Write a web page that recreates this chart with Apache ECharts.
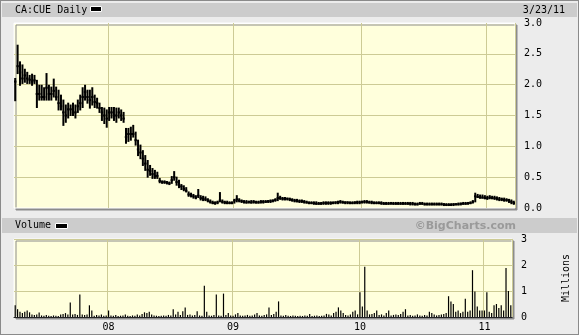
<!DOCTYPE html>
<html><head><meta charset="utf-8">
<script src="https://cdn.jsdelivr.net/npm/echarts@6/dist/echarts.min.js"></script>
<style>html,body{margin:0;padding:0;background:#ececec;overflow:hidden}#c{width:579px;height:335px}</style>
</head><body><div id="c"></div>
<script>
// weekly bars, Monday dates starting here
const startMonday = '2007-04-02';
const weekCount = 208;
const yearStarts = ['2007-12-31', '2008-12-29', '2010-01-04', '2011-01-03'];
const yearLabels = ['08', '09', '10', '11'];
const priceTicks = [0, 0.5, 1.0, 1.5, 2.0, 2.5, 3.0];
const volTicks = [0, 1, 2, 3];

const hi = [
 2.10,2.64,2.37,2.32,2.25,2.20,2.15,2.17,2.15,2.07,
 1.99,1.99,1.95,2.18,1.99,1.96,2.09,1.96,1.91,1.83,
 1.75,1.67,1.70,1.67,1.70,1.67,1.75,1.83,1.95,1.99,
 1.91,1.91,1.95,1.83,1.78,1.70,1.63,1.62,1.59,1.63,
 1.63,1.63,1.62,1.62,1.59,1.55,1.29,1.29,1.31,1.34,
 1.23,1.10,1.02,0.93,0.85,0.77,0.69,0.64,0.61,0.58,
 0.48,0.44,0.44,0.43,0.42,0.51,0.59,0.50,0.45,0.38,
 0.36,0.33,0.26,0.24,0.22,0.20,0.30,0.20,0.19,0.18,
 0.15,0.13,0.11,0.10,0.11,0.25,0.13,0.11,0.11,0.10,
 0.10,0.14,0.20,0.15,0.13,0.12,0.12,0.11,0.12,0.12,
 0.11,0.11,0.12,0.12,0.12,0.12,0.13,0.13,0.15,0.24,
 0.19,0.17,0.17,0.16,0.16,0.15,0.14,0.14,0.13,0.13,
 0.12,0.11,0.10,0.10,0.10,0.10,0.09,0.09,0.10,0.10,
 0.10,0.10,0.10,0.10,0.11,0.12,0.11,0.10,0.10,0.10,
 0.10,0.10,0.11,0.11,0.11,0.12,0.12,0.11,0.11,0.10,
 0.10,0.10,0.10,0.09,0.09,0.09,0.09,0.09,0.09,0.09,
 0.09,0.09,0.09,0.09,0.09,0.09,0.08,0.08,0.09,0.09,
 0.08,0.08,0.08,0.08,0.08,0.08,0.08,0.08,0.07,0.07,
 0.07,0.07,0.07,0.07,0.08,0.08,0.09,0.09,0.09,0.10,
 0.12,0.24,0.22,0.21,0.21,0.20,0.19,0.20,0.19,0.19,
 0.18,0.17,0.16,0.16,0.15,0.14,0.13,0.11
];
const lo = [
 1.74,2.18,1.99,2.02,2.04,2.02,2.02,1.99,2.02,1.63,
 1.75,1.75,1.75,1.75,1.75,1.75,1.80,1.75,1.59,1.59,
 1.34,1.39,1.46,1.50,1.50,1.46,1.55,1.59,1.63,1.75,
 1.70,1.62,1.67,1.63,1.62,1.55,1.42,1.37,1.31,1.42,
 1.46,1.42,1.39,1.46,1.42,1.39,1.05,1.08,1.10,1.15,
 1.02,0.85,0.80,0.69,0.61,0.50,0.53,0.48,0.48,0.48,
 0.41,0.40,0.40,0.39,0.38,0.40,0.45,0.37,0.33,0.30,
 0.28,0.26,0.19,0.18,0.16,0.15,0.17,0.13,0.12,0.12,
 0.10,0.08,0.07,0.06,0.07,0.10,0.08,0.07,0.07,0.07,
 0.07,0.08,0.10,0.10,0.09,0.08,0.08,0.08,0.08,0.08,
 0.08,0.08,0.08,0.08,0.09,0.09,0.09,0.10,0.11,0.12,
 0.14,0.13,0.13,0.13,0.12,0.11,0.10,0.10,0.09,0.09,
 0.08,0.08,0.07,0.07,0.06,0.06,0.06,0.06,0.06,0.06,
 0.06,0.06,0.07,0.07,0.07,0.08,0.08,0.07,0.07,0.07,
 0.07,0.07,0.07,0.07,0.08,0.08,0.08,0.08,0.07,0.07,
 0.07,0.07,0.06,0.06,0.06,0.06,0.06,0.06,0.06,0.06,
 0.06,0.06,0.06,0.06,0.05,0.05,0.05,0.05,0.06,0.06,
 0.05,0.05,0.05,0.05,0.05,0.05,0.05,0.05,0.04,0.04,
 0.04,0.04,0.04,0.05,0.05,0.05,0.06,0.06,0.06,0.07,
 0.08,0.10,0.17,0.16,0.16,0.15,0.14,0.15,0.15,0.14,
 0.13,0.12,0.12,0.11,0.11,0.09,0.07,0.06
];
const cl = [
 2.05,2.30,2.20,2.10,2.15,2.10,2.08,2.05,2.07,1.85,
 1.85,1.80,1.80,1.95,1.85,1.85,1.90,1.80,1.70,1.65,
 1.55,1.50,1.60,1.60,1.55,1.55,1.65,1.70,1.80,1.88,
 1.80,1.75,1.80,1.72,1.70,1.62,1.55,1.50,1.45,1.55,
 1.55,1.50,1.50,1.55,1.50,1.45,1.15,1.20,1.20,1.20,
 1.10,0.95,0.90,0.80,0.72,0.62,0.60,0.55,0.52,0.52,
 0.44,0.42,0.42,0.41,0.40,0.45,0.50,0.42,0.38,0.35,
 0.31,0.28,0.22,0.21,0.19,0.17,0.20,0.16,0.15,0.14,
 0.12,0.10,0.08,0.08,0.09,0.12,0.10,0.09,0.08,0.08,
 0.08,0.12,0.14,0.12,0.11,0.10,0.09,0.10,0.09,0.10,
 0.09,0.09,0.10,0.10,0.10,0.11,0.11,0.12,0.13,0.16,
 0.16,0.15,0.15,0.15,0.14,0.13,0.12,0.11,0.11,0.11,
 0.10,0.09,0.08,0.08,0.08,0.07,0.07,0.07,0.08,0.08,
 0.08,0.08,0.08,0.09,0.09,0.10,0.09,0.09,0.09,0.08,
 0.08,0.09,0.09,0.09,0.10,0.10,0.10,0.09,0.09,0.08,
 0.08,0.08,0.08,0.07,0.07,0.07,0.08,0.07,0.07,0.07,
 0.07,0.07,0.07,0.07,0.07,0.07,0.06,0.06,0.07,0.07,
 0.06,0.06,0.06,0.06,0.06,0.06,0.06,0.06,0.06,0.05,
 0.05,0.05,0.06,0.06,0.06,0.07,0.07,0.07,0.08,0.08,
 0.10,0.19,0.18,0.17,0.17,0.16,0.16,0.17,0.16,0.16,
 0.15,0.14,0.14,0.13,0.13,0.12,0.10,0.08
];
// volume, millions
const vol = [
 0.45,0.30,0.20,0.15,0.20,0.25,0.18,0.10,0.08,0.10,
 0.17,0.06,0.05,0.08,0.05,0.04,0.06,0.05,0.04,0.10,
 0.12,0.15,0.10,0.56,0.10,0.12,0.08,0.87,0.10,0.08,
 0.10,0.45,0.25,0.05,0.08,0.06,0.10,0.05,0.06,0.25,
 0.06,0.05,0.08,0.04,0.05,0.06,0.10,0.05,0.04,0.06,
 0.05,0.10,0.06,0.12,0.18,0.15,0.20,0.10,0.06,0.05,
 0.04,0.05,0.06,0.05,0.08,0.06,0.30,0.10,0.20,0.08,
 0.22,0.37,0.08,0.10,0.06,0.08,0.22,0.06,0.05,1.20,
 0.20,0.06,0.05,0.08,0.87,0.06,0.05,0.90,0.08,0.15,
 0.06,0.05,0.10,0.15,0.06,0.05,0.06,0.08,0.05,0.06,
 0.10,0.15,0.06,0.05,0.08,0.10,0.37,0.08,0.12,0.20,
 0.60,0.06,0.05,0.08,0.05,0.04,0.06,0.05,0.04,0.05,
 0.04,0.06,0.05,0.12,0.04,0.05,0.06,0.04,0.05,0.06,
 0.12,0.10,0.06,0.15,0.20,0.37,0.25,0.15,0.08,0.06,
 0.10,0.20,0.25,0.10,0.95,0.40,1.93,0.25,0.10,0.12,
 0.15,0.25,0.08,0.10,0.06,0.15,0.25,0.06,0.08,0.10,
 0.08,0.12,0.20,0.30,0.06,0.08,0.05,0.06,0.10,0.06,
 0.05,0.08,0.06,0.20,0.15,0.10,0.06,0.08,0.10,0.12,
 0.15,0.80,0.60,0.50,0.20,0.25,0.15,0.20,0.70,0.20,
 0.25,1.80,0.98,0.40,0.25,0.25,0.25,0.95,0.20,0.15,
 0.45,0.50,0.35,0.45,0.25,1.88,1.00,0.45
];

// category labels: Monday of each week
const weeks = [];
{
  const d0 = new Date(startMonday + 'T00:00:00Z');
  for (let i = 0; i < weekCount; i++) {
    const d = new Date(d0.getTime() + i * 7 * 86400000);
    weeks.push(d.toISOString().slice(0, 10));
  }
}

const MONO = '"DejaVu Sans Mono", "Liberation Mono", monospace';
const GRIDC = '#cdcb95';
const isYear = (idx, val) => yearStarts.indexOf(val) >= 0;

const chart = echarts.init(document.getElementById('c'), null, {renderer: 'canvas'});

const gridStyle = {
  show: true, backgroundColor: '#ffffdc', borderColor: '#ffffff', borderWidth: 1,
  shadowColor: '#8c8c8c', shadowOffsetX: 2, shadowOffsetY: 2, shadowBlur: 0,
  containLabel: false
};

const option = {
  animation: false,
  backgroundColor: '#ececec',
  graphic: [
    {type: 'rect', shape: {x: 0, y: 0, width: 579, height: 335}, style: {fill: 'none', stroke: '#8a8a8a', lineWidth: 2}, silent: true, z: 100},
    {type: 'rect', shape: {x: 2, y: 3, width: 575, height: 14}, style: {fill: '#cccccc'}, silent: true, z: -1},
    {type: 'rect', shape: {x: 2, y: 218, width: 575, height: 15}, style: {fill: '#cccccc'}, silent: true, z: -1},
    {type: 'text', x: 15, y: 10.5, style: {text: 'CA:CUE Daily', font: '10px ' + MONO, fill: '#000', align: 'left', verticalAlign: 'middle'}},
    {type: 'rect', shape: {x: 90.5, y: 6.5, width: 11, height: 5}, style: {fill: '#000', stroke: '#fff', lineWidth: 1}},
    {type: 'text', x: 565, y: 10.5, style: {text: '3/23/11', font: '10px ' + MONO, fill: '#000', align: 'right', verticalAlign: 'middle'}},
    {type: 'text', x: 15, y: 225.5, style: {text: 'Volume', font: '10px ' + MONO, fill: '#000', align: 'left', verticalAlign: 'middle'}},
    {type: 'rect', shape: {x: 55.5, y: 223.5, width: 12, height: 5}, style: {fill: '#000', stroke: '#fff', lineWidth: 1}},
    {type: 'text', x: 516, y: 226, style: {text: '\u00A9BigCharts.com', font: 'bold 11px "DejaVu Sans", sans-serif', fill: '#9a9a9a', align: 'right', verticalAlign: 'middle'}}
  ],
  grid: [
    Object.assign({left: 14, top: 23, width: 501, height: 185}, gridStyle),
    Object.assign({left: 14, top: 239, width: 501, height: 78}, gridStyle)
  ],
  xAxis: [
    {
      gridIndex: 0, type: 'category', data: weeks, boundaryGap: true,
      axisLine: {show: false}, axisTick: {show: false}, axisLabel: {show: false},
      splitLine: {show: true, interval: isYear, lineStyle: {color: GRIDC, width: 1}}
    },
    {
      gridIndex: 1, type: 'category', data: weeks, boundaryGap: true,
      axisLine: {show: true, lineStyle: {color: '#222', width: 1}}, axisTick: {show: false},
      axisLabel: {show: true, interval: isYear, margin: 5, fontFamily: MONO, fontSize: 10, color: '#000',
        formatter: (v) => yearLabels[yearStarts.indexOf(v)]},
      splitLine: {show: true, interval: isYear, lineStyle: {color: GRIDC, width: 1}}
    }
  ],
  yAxis: [
    {
      gridIndex: 0, type: 'value', position: 'right', min: priceTicks[0], max: priceTicks[priceTicks.length - 1], interval: 0.5,
      axisLine: {show: false}, axisTick: {show: false},
      axisLabel: {margin: 9, fontFamily: MONO, fontSize: 10, color: '#000', formatter: (v) => v.toFixed(1)},
      splitLine: {show: true, lineStyle: {color: ['rgba(0,0,0,0)', GRIDC, GRIDC, GRIDC, GRIDC, GRIDC, '#ffffff'], width: 1}}
    },
    {
      gridIndex: 1, type: 'value', position: 'right', min: volTicks[0], max: volTicks[volTicks.length - 1], interval: 1,
      axisLine: {show: false}, axisTick: {show: false},
      axisLabel: {margin: 9, fontFamily: MONO, fontSize: 10, color: '#000'},
      name: 'Millions', nameLocation: 'middle', nameGap: 49, nameRotate: 90,
      nameTextStyle: {fontFamily: MONO, fontSize: 10, color: '#000'},
      splitLine: {show: true, lineStyle: {color: ['rgba(0,0,0,0)', GRIDC, GRIDC, GRIDC], width: 1}}
    }
  ],
  series: [
    {
      type: 'custom', xAxisIndex: 0, yAxisIndex: 0,
      data: hi.map((h, i) => [i, h, lo[i], cl[i]]),
      renderItem: (params, api) => {
        const i = api.value(0);
        const ph = api.coord([i, api.value(1)]);
        const pl = api.coord([i, api.value(2)]);
        const pc = api.coord([i, api.value(3)]);
        const w = api.size([1, 0])[0];
        return {type: 'group', children: [
          {type: 'line', shape: {x1: ph[0], y1: ph[1] - 0.5, x2: pl[0], y2: pl[1] + 0.5}, style: {stroke: '#000', lineWidth: 2}},
          {type: 'line', shape: {x1: pc[0] - w / 2, y1: pc[1], x2: pc[0] + w / 2, y2: pc[1]}, style: {stroke: '#000', lineWidth: 2}}
        ]};
      },
      clip: true
    },
    {
      type: 'bar', xAxisIndex: 1, yAxisIndex: 1, data: vol, barWidth: 1.2,
      itemStyle: {color: '#000'}, large: false
    }
  ]
};
chart.setOption(option);
</script>
</body></html>
